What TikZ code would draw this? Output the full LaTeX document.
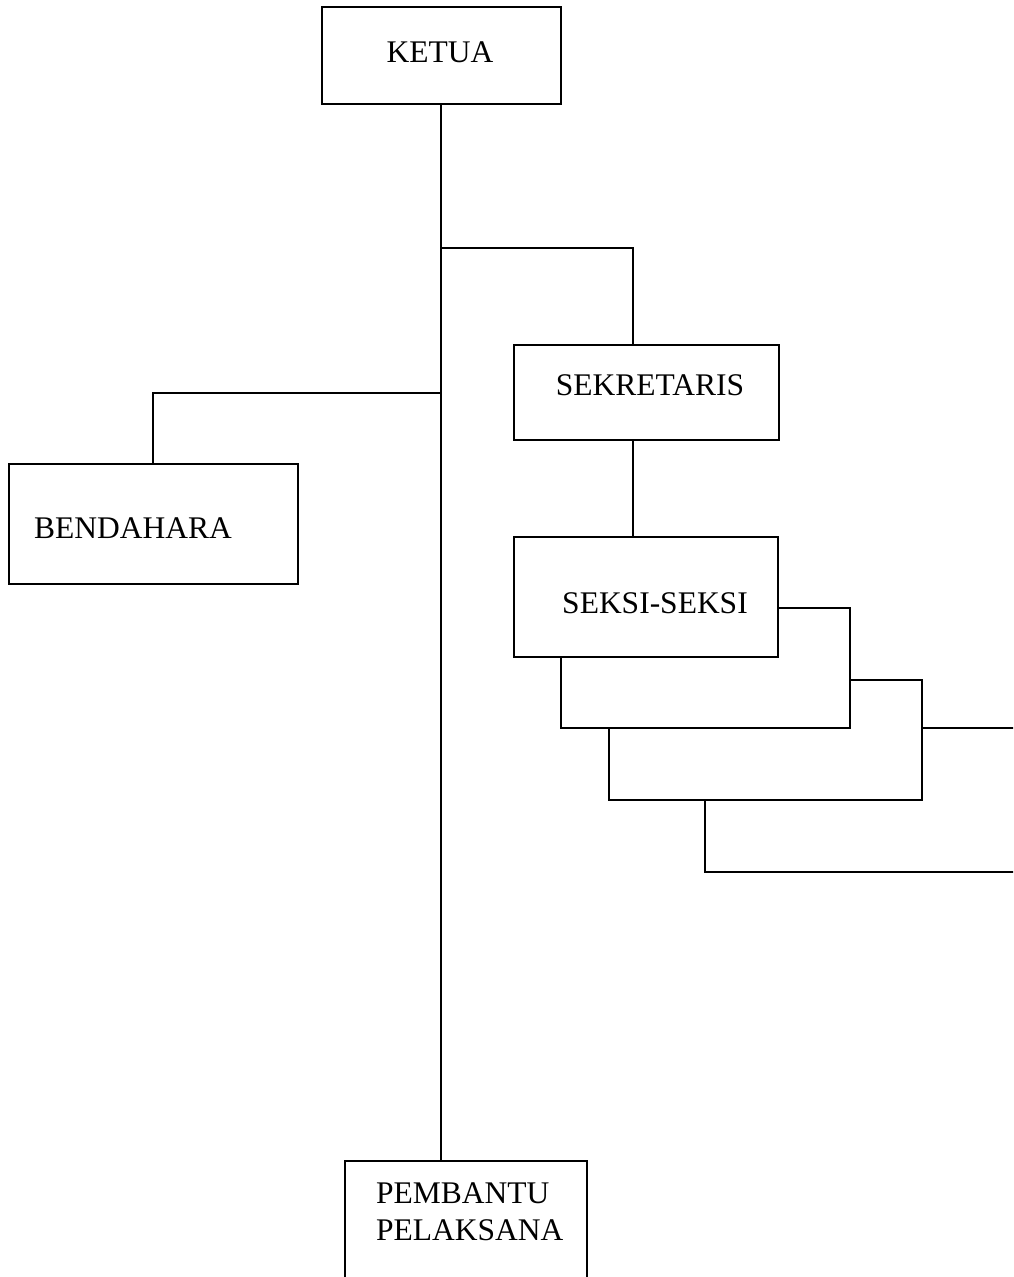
\documentclass[tikz,border=0pt]{standalone}
\usepackage{fontspec}
\setmainfont{Liberation Serif}
\begin{document}
\begin{tikzpicture}[x=1pt,y=-1pt,
  box/.style={draw,line width=1.3pt,rectangle,inner sep=0pt},
  lbl/.style={font=\fontsize{31.5}{36}\selectfont,inner sep=0pt},
  conn/.style={line width=1.3pt}]
\path[use as bounding box,clip] (0,0) rectangle (1013,1277);
\fill[white] (0,0) rectangle (1013,1277);
% boxes
\node[box,minimum width=239pt,minimum height=97pt] (ketua) at (441.5,55.5) {};
\node[lbl] (tketua) at (440,52) {KETUA};
\node[box,minimum width=265pt,minimum height=95pt] (sek) at (646.5,392.5) {};
\node[lbl] (tsek) at (650,385) {SEKRETARIS};
\node[box,minimum width=264pt,minimum height=120pt] (seksi) at (646,597) {};
\node[lbl] (tseksi) at (655,603) {SEKSI-SEKSI};
\node[box,minimum width=289pt,minimum height=120pt] (bend) at (153.5,524) {};
\node[lbl,anchor=west] (tbend) at (34,528) {BENDAHARA};
\node[box,minimum width=242pt,minimum height=160pt] (pemb) at (466,1241) {};
\node[lbl,align=left,anchor=north west,font=\fontsize{31.5}{37}\selectfont] (tpemb) at (376,1182) {PEMBANTU\\PELAKSANA};
% junctions
\coordinate (j1) at (441,248);
\coordinate (j2) at (441,393);
\coordinate (sekin) at (633,345);
\coordinate (sekout) at (633,440);
\coordinate (seksiin) at (633,537);
\coordinate (bendin) at (153,464);
% connectors
\draw[conn] (ketua.south -| j1) -- (j1 |- pemb.north);
\draw[conn] (j1) -| (sekin);
\draw[conn] (sekout) -- (seksiin);
\draw[conn] (j2) -| (bendin);
% stacked sections
\draw[conn] (778,608) -- (850,608) -- (850,728) -- (561,728) -- (561,657);
\draw[conn] (850,680) -- (922,680) -- (922,800) -- (609,800) -- (609,728);
\draw[conn] (922,728) -- (1014,728);
\draw[conn] (705,800) -- (705,872) -- (1014,872);
\end{tikzpicture}
\end{document}
